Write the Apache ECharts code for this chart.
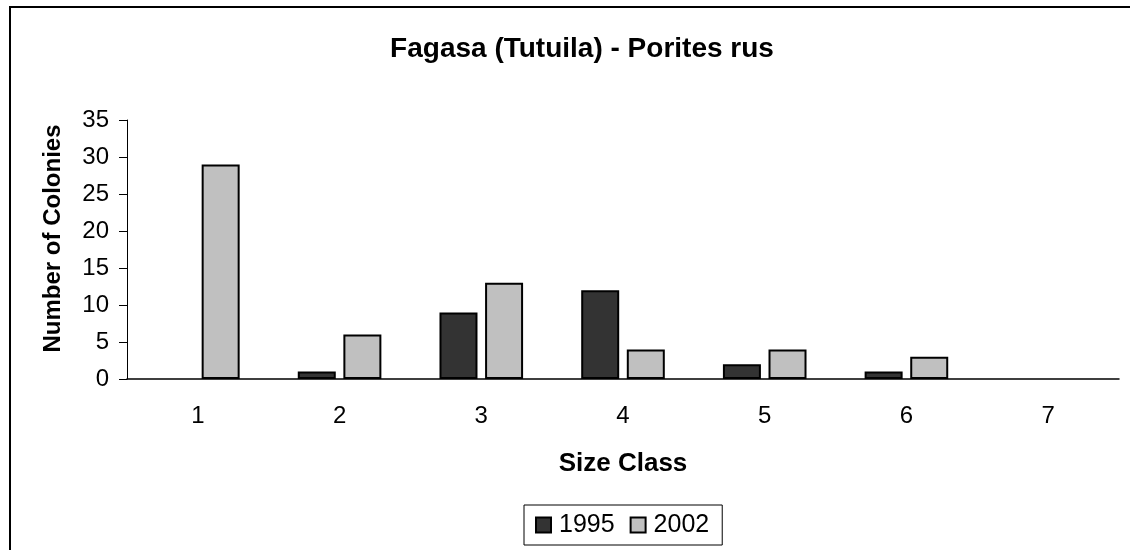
<!DOCTYPE html>
<html>
<head>
<meta charset="utf-8">
<script src="https://cdn.jsdelivr.net/npm/echarts@6/dist/echarts.min.js"></script>
<style>
  html, body { margin: 0; padding: 0; background: #fff; }
  #chart { width: 1130px; height: 550px; }
</style>
</head>
<body>
<div id="chart"></div>
<script>
const categories = ['1', '2', '3', '4', '5', '6', '7']
const values1995 = [0, 1, 9, 12, 2, 1, 0]
const values2002 = [29, 6, 13, 4, 4, 3, 0]
const yTicks = [0, 5, 10, 15, 20, 25, 30, 35]

const font = "'Liberation Sans', Arial, sans-serif"

// empty classes are not drawn at all in the original
const hideZero = arr => arr.map(v => (v === 0 ? null : v))

const chart = echarts.init(document.getElementById('chart'))
chart.setOption({
  animation: false,
  backgroundColor: '#fff',
  textStyle: { fontFamily: font, color: '#000' },
  title: {
    text: 'Fagasa (Tutuila) - Porites rus',
    left: 577,
    top: 30,
    textAlign: 'center',
    textStyle: { fontFamily: font, fontSize: 28, fontWeight: 'bold', color: '#000' },
  },
  graphic: [{
    type: 'rect',
    shape: { x: 10, y: 7, width: 1300, height: 700 },
    style: { fill: 'none', stroke: '#000', lineWidth: 2 },
    silent: true,
  }],
  legend: {
    left: 524,
    top: 505,
    icon: 'rect',
    itemWidth: 15,
    itemHeight: 15,
    itemGap: 15,
    padding: [7, 13, 7, 11],
    borderColor: '#000',
    borderWidth: 1,
    textStyle: { fontFamily: font, fontSize: 25, lineHeight: 26, color: '#000', padding: [0, 0, 0, 3] },
    data: ['1995', '2002'],
  },
  grid: { left: 127, right: 11, top: 120, bottom: 171 },
  xAxis: {
    type: 'category',
    data: categories,
    name: 'Size Class',
    nameLocation: 'middle',
    nameGap: 72,
    nameTextStyle: { fontFamily: font, fontSize: 26, fontWeight: 'bold', color: '#000' },
    axisLine: { lineStyle: { color: '#000', width: 1.5 } },
    axisTick: { show: false },
    axisLabel: { fontFamily: font, fontSize: 24, color: '#000', margin: 25 },
  },
  yAxis: {
    type: 'value',
    min: yTicks[0],
    max: yTicks[yTicks.length - 1],
    interval: 5,
    name: 'Number of Colonies',
    nameLocation: 'middle',
    nameGap: 62,
    nameTextStyle: { fontFamily: font, fontSize: 24, fontWeight: 'bold', color: '#000', padding: [0, 0, 0, 22] },
    axisLine: { show: true, lineStyle: { color: '#000', width: 1 } },
    axisTick: { show: true, inside: false, length: 8, lineStyle: { color: '#000' } },
    axisLabel: { fontFamily: font, fontSize: 24, color: '#000', margin: 18 },
    splitLine: { show: false },
  },
  series: [
    {
      name: '1995',
      type: 'bar',
      data: hideZero(values1995),
      barWidth: 38,
      barGap: '20%',
      itemStyle: { color: '#333333', borderColor: '#000', borderWidth: 2 },
    },
    {
      name: '2002',
      type: 'bar',
      data: hideZero(values2002),
      barWidth: 38,
      barGap: '20%',
      itemStyle: { color: '#c0c0c0', borderColor: '#000', borderWidth: 2 },
    },
  ],
})
</script>
</body>
</html>
